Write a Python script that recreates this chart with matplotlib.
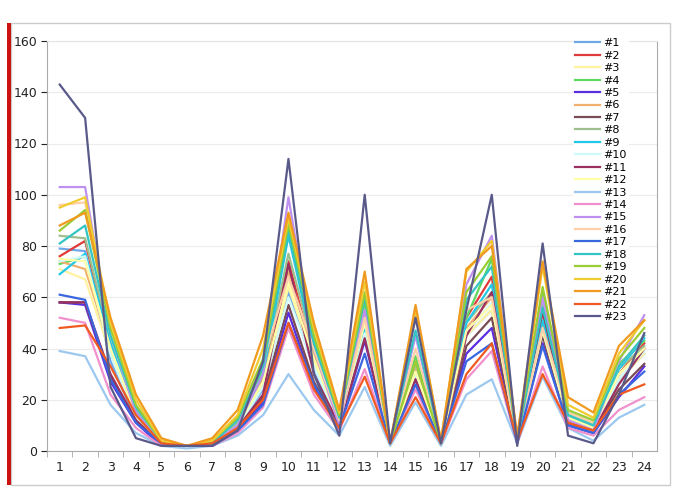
import matplotlib
matplotlib.use("Agg")
import matplotlib.pyplot as plt
from matplotlib.patches import Rectangle

hours = list(range(1, 25))
labels = ["#%d" % i for i in range(1, 24)]

colors = ["#6fa8e8", "#e03a3a", "#fff3a0", "#5ed85e", "#5a2ee0", "#f0b070",
          "#7a4a55", "#9fbf8f", "#22c8e8", "#d0fafa", "#9a3060", "#ffffa8",
          "#9cc8f0", "#f090cc", "#c090f0", "#ffd0a8", "#3a66e0", "#33c4c4",
          "#9acc33", "#f0cc30", "#f09a20", "#f05a20", "#5a5a8a"]

s1 = [79, 78, 35, 12, 3, 2, 3, 9, 24, 62, 32, 10, 45, 3, 30, 3, 45, 55, 4, 45, 12, 8, 28, 38]
s2 = [76, 82, 40, 14, 3, 2, 3, 10, 28, 74, 36, 11, 50, 3, 32, 3, 52, 68, 4, 54, 13, 9, 30, 42]
s3 = [71, 67, 38, 14, 3, 2, 3, 10, 26, 64, 35, 11, 48, 3, 30, 3, 45, 55, 4, 46, 12, 9, 28, 38]
s4 = [73, 76, 42, 16, 4, 2, 3, 12, 32, 87, 44, 13, 58, 3, 37, 3, 52, 75, 4, 62, 15, 11, 34, 43]
s5 = [58, 57, 27, 11, 2, 2, 2, 8, 19, 54, 25, 9, 43, 3, 28, 3, 38, 48, 3, 42, 10, 7, 21, 33]
s6 = [74, 71, 40, 15, 3, 2, 3, 10, 28, 70, 38, 11, 52, 3, 33, 3, 48, 60, 4, 50, 13, 9, 30, 40]
s7 = [58, 58, 29, 12, 3, 2, 2, 8, 21, 57, 27, 9, 45, 3, 30, 3, 41, 52, 3, 45, 11, 8, 24, 34]
s8 = [84, 83, 42, 16, 3, 2, 3, 11, 30, 77, 40, 12, 55, 3, 34, 3, 50, 62, 4, 58, 14, 10, 32, 41]
s9 = [69, 77, 42, 15, 3, 2, 3, 10, 30, 84, 40, 12, 48, 3, 46, 3, 50, 65, 4, 51, 13, 9, 32, 44]
s10 = [74, 76, 38, 13, 3, 2, 3, 9, 25, 60, 33, 10, 46, 3, 30, 3, 46, 58, 4, 47, 12, 8, 28, 39]
s11 = [58, 58, 30, 12, 3, 2, 3, 9, 22, 73, 30, 10, 44, 3, 28, 3, 45, 62, 3, 55, 11, 8, 26, 40]
s12 = [75, 74, 40, 14, 3, 2, 3, 10, 27, 66, 36, 11, 50, 3, 31, 3, 47, 57, 4, 47, 13, 9, 30, 40]
s13 = [39, 37, 18, 7, 2, 1, 2, 6, 14, 30, 16, 6, 25, 2, 19, 2, 22, 28, 3, 29, 9, 4, 13, 18]
s14 = [52, 50, 22, 9, 2, 2, 2, 7, 17, 48, 22, 8, 32, 3, 24, 3, 28, 39, 3, 33, 9, 6, 16, 21]
s15 = [103, 103, 45, 15, 3, 2, 3, 10, 30, 99, 40, 10, 55, 3, 45, 3, 65, 84, 4, 60, 12, 8, 35, 53]
s16 = [96, 97, 45, 17, 4, 2, 4, 12, 35, 68, 40, 12, 52, 3, 40, 3, 55, 60, 4, 48, 15, 11, 33, 45]
s17 = [61, 59, 28, 11, 3, 2, 2, 8, 18, 50, 26, 9, 38, 3, 26, 3, 35, 42, 3, 41, 10, 7, 22, 31]
s18 = [81, 88, 45, 17, 4, 2, 3, 12, 33, 85, 42, 13, 60, 3, 47, 3, 59, 72, 4, 56, 14, 10, 33, 45]
s19 = [86, 94, 48, 18, 4, 2, 4, 13, 36, 89, 45, 14, 62, 3, 35, 3, 62, 76, 5, 64, 16, 12, 36, 48]
s20 = [95, 99, 50, 20, 4, 2, 4, 14, 40, 91, 48, 15, 66, 3, 55, 4, 70, 82, 5, 72, 18, 13, 38, 51]
s21 = [88, 93, 52, 22, 5, 2, 5, 16, 45, 93, 50, 16, 70, 3, 57, 4, 71, 80, 6, 74, 21, 15, 41, 51]
s22 = [48, 49, 33, 14, 3, 2, 3, 9, 20, 50, 24, 9, 29, 3, 21, 3, 30, 42, 4, 30, 11, 8, 22, 26]
s23 = [143, 130, 25, 5, 2, 2, 2, 8, 35, 114, 30, 6, 100, 3, 52, 3, 55, 100, 2, 81, 6, 3, 22, 46]

series = [s1, s2, s3, s4, s5, s6, s7, s8, s9, s10, s11, s12, s13, s14, s15,
          s16, s17, s18, s19, s20, s21, s22, s23]

plt.rcParams["font.family"] = ["DejaVu Sans"]

fig = plt.figure(figsize=(6.85, 5.04), dpi=100)
ax = fig.add_axes([47 / 685, 1 - 451 / 504, (657 - 47) / 685, (451 - 41) / 504])

for vals, lab, col in zip(series, labels, colors):
    ax.plot(hours, vals, color=col, lw=1.6, label=lab)

ax.set_xlim(0.5, 24.5)
ax.set_ylim(0, 160)
ax.set_yticks(range(0, 161, 20))
ax.set_xticks(hours)
ax.set_xticks([h + 0.5 for h in range(0, 24)], minor=True)
ax.tick_params(axis="x", which="major", length=0, pad=7, labelsize=9, colors="#222222")
ax.tick_params(axis="x", which="minor", length=4, color="#aaaaaa")
ax.tick_params(axis="y", length=4, color="#aaaaaa", labelsize=9, colors="#222222", pad=3)
ax.tick_params(axis="y", colors="#222222", labelcolor="#222222")
ax.grid(axis="y", color="#ececec", lw=0.8)
ax.set_axisbelow(True)
for side in ["left", "bottom", "right"]:
    ax.spines[side].set_color("#aaaaaa")
ax.spines["top"].set_color("#e4e4e4")

leg = ax.legend(loc="upper left", bbox_to_anchor=(573 / 685, 1 - 36 / 504),
                bbox_transform=fig.transFigure, frameon=True, fontsize=8,
                handlelength=2.2, handletextpad=0.3, labelspacing=0.22,
                borderpad=0.2, borderaxespad=0)
leg.get_frame().set_edgecolor("none")
leg.get_frame().set_facecolor("white")
leg.get_frame().set_alpha(1)

# outer frame and red bar on the left
fig.add_artist(Rectangle((11 / 685, 1 - 485 / 504), (670 - 11) / 685, (485 - 23) / 504,
                         transform=fig.transFigure, fill=False, edgecolor="#cccccc", lw=1))
fig.add_artist(Rectangle((7 / 685, 1 - 485 / 504), 4 / 685, (485 - 23) / 504,
                         transform=fig.transFigure, color="#cc1111", lw=0))

fig.savefig("out.png", dpi=100)
